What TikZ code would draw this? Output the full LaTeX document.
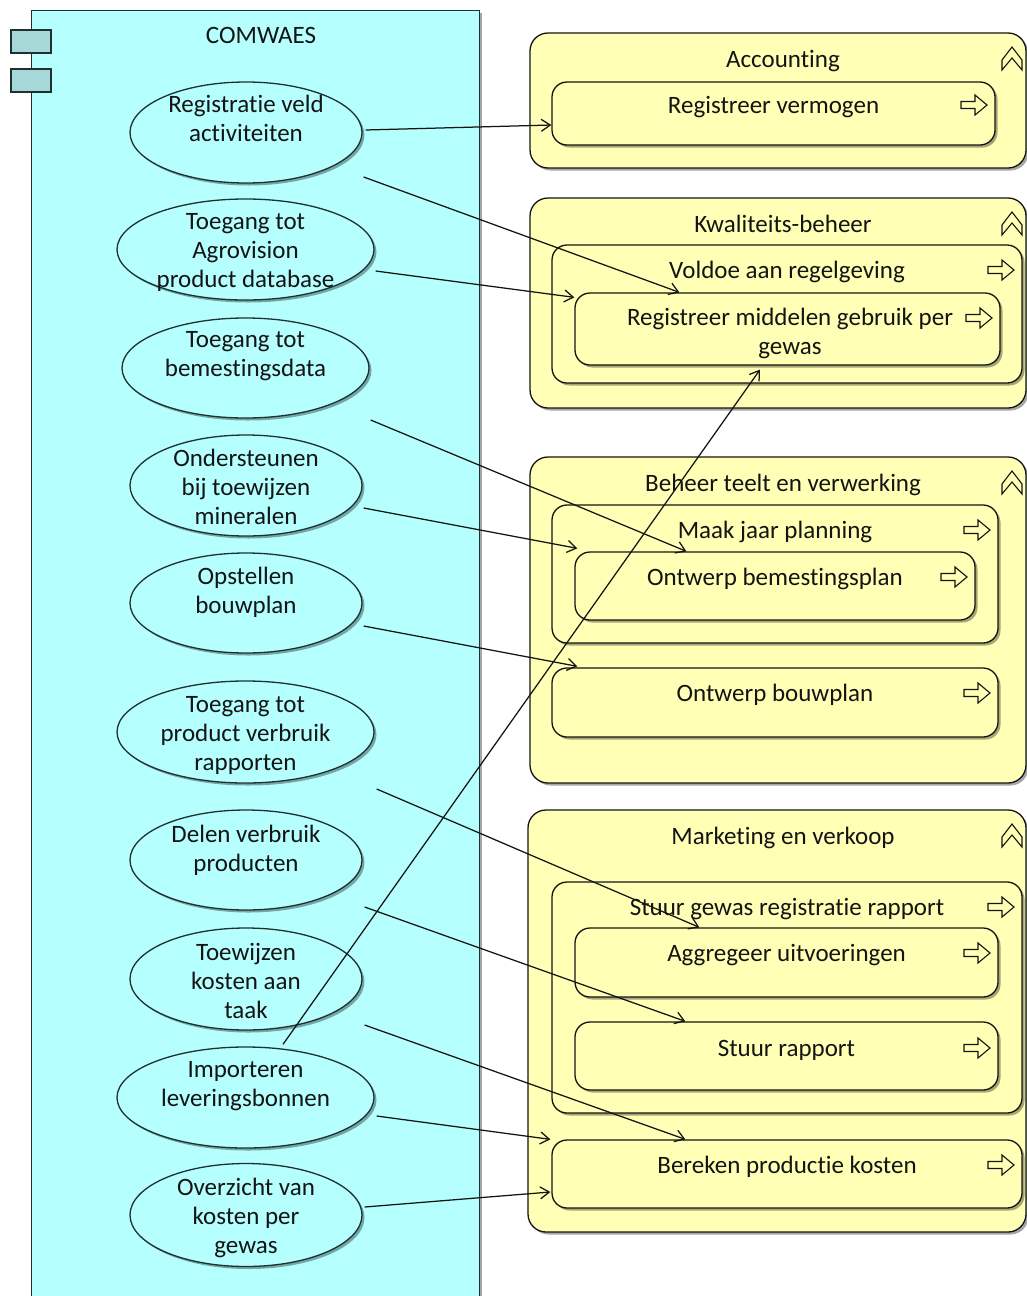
\documentclass[tikz,border=0pt]{standalone}
\usepackage{fontspec}
\setmainfont{Carlito}[Ligatures=NoCommon]
\usetikzlibrary{arrows.meta,shapes.geometric,shadows}
\definecolor{appfill}{HTML}{B5FFFF}
\definecolor{appicon}{HTML}{A6D8D8}
\definecolor{bizfill}{HTML}{FFFFB5}
\definecolor{ink}{HTML}{141414}
\definecolor{edgec}{HTML}{1E3030}
\newcommand\fsz{\fontsize{25}{29}\selectfont}
\newcommand\grp[6]{% name x1 y1 x2 y2 title
  \node[groupbox,minimum width={#4-#2},minimum height={#5-#3},inner sep=0pt] (#1) at ({(#2+#4)/2},{(#3+#5)/2}) {};
  \node[txt] (#1-t) at (783,{#3+25.5}) {#6};
  \pic at (1012,{#3+27}) {collapseicon};
}
\newcommand\prc[7]{% name x1 y1 x2 y2 texty text
  \node[procbox,minimum width={#4-#2},minimum height={#5-#3},inner sep=0pt] (#1) at ({(#2+#4)/2},{(#3+#5)/2}) {};
  \node[txt] (#1-t) at ({(#2+#4)/2},#6) {#7};
  \pic at ({#4-21},#6) {procicon};
}
\begin{document}
\begin{tikzpicture}[x=1pt,y=-1pt,
  shad/.style={drop shadow={shadow xshift=2.5pt,shadow yshift=-2.5pt,opacity=.35,fill=black}},
  compbox/.style={draw=edgec,line width=1.4pt,fill=appfill},
  compicon/.style={draw=edgec,line width=1.4pt,fill=appicon},
  usecase/.style={ellipse,draw=edgec,line width=1.3pt,fill=appfill,inner sep=0pt,shad},
  groupbox/.style={rectangle,rounded corners=18pt,draw=ink,line width=1.3pt,fill=bizfill,shad},
  procbox/.style={rectangle,rounded corners=15pt,draw=ink,line width=1.3pt,fill=bizfill,shad},
  txt/.style={font=\fsz,text=ink,align=center,inner sep=0pt,yshift=-3pt,
    execute at begin node={\strut},execute at end node={\strut}},
  conn/.style={draw=ink,line width=1.25pt,-{Straight Barb[length=9pt,width=12pt]}},
  procicon/.pic={\draw[ink,line width=1.1pt,fill=bizfill]
     (-13,-3.5) -- (1,-3.5) -- (1,-10) -- (13,0) -- (1,10) -- (1,3.5) -- (-13,3.5) -- cycle;},
  collapseicon/.pic={\draw[ink,line width=1.1pt,line join=miter]
     (0,-13) -- (-10,0) -- (-10,10) -- (0,-2) -- (10,10) -- (10,0) -- cycle;}
]
\useasboundingbox (0,0) rectangle (1027,1296);
\clip (0,0) rectangle (1027,1296);
\fill[white] (0,0) rectangle (1027,1296);

% ---------- application component ----------
\node[compbox,shad,rectangle,minimum width=448pt,minimum height=1300pt,anchor=north west,inner sep=0pt] (comp) at (31,10) {};
\node[compicon,rectangle,minimum width=40pt,minimum height=23pt,inner sep=0pt] (ci1) at (31,41.5) {};
\node[compicon,rectangle,minimum width=40pt,minimum height=23pt,inner sep=0pt] (ci2) at (31,80.5) {};
\node[txt] (comp-t) at (261,35) {COMWAES};

% ---------- use cases ----------
\node[usecase,minimum width=232pt,minimum height=101pt] (e1) at (246,132.5) {};
\node[txt] (e1-t) at (246,119.5) {Registratie veld\\activiteiten};
\node[usecase,minimum width=257pt,minimum height=101pt] (e2) at (245.5,249.5) {};
\node[txt] (e2-t) at (245.5,252) {Toegang tot\\Agrovision\\product database};
\node[usecase,minimum width=247pt,minimum height=100pt] (e3) at (245.5,368) {};
\node[txt] (e3-t) at (245.5,355.5) {Toegang tot\\bemestingsdata};
\node[usecase,minimum width=232pt,minimum height=101pt] (e4) at (246,485.5) {};
\node[txt] (e4-t) at (246,488) {Ondersteunen\\bij toewijzen\\mineralen};
\node[usecase,minimum width=232pt,minimum height=100pt] (e5) at (246,603) {};
\node[txt] (e5-t) at (246,591.5) {Opstellen\\bouwplan};
\node[usecase,minimum width=257pt,minimum height=102pt] (e6) at (245.5,732) {};
\node[txt] (e6-t) at (245.5,735) {Toegang tot\\product verbruik\\rapporten};
\node[usecase,minimum width=232pt,minimum height=100pt] (e7) at (246,860) {};
\node[txt] (e7-t) at (246,849.5) {Delen verbruik\\producten};
\node[usecase,minimum width=232pt,minimum height=102pt] (e8) at (246,979) {};
\node[txt] (e8-t) at (246,982) {Toewijzen\\kosten aan\\taak};
\node[usecase,minimum width=257pt,minimum height=101pt] (e9) at (245.5,1097.5) {};
\node[txt] (e9-t) at (245.5,1085.5) {Importeren\\leveringsbonnen};
\node[usecase,minimum width=232pt,minimum height=103pt] (e10) at (246,1215) {};
\node[txt] (e10-t) at (246,1217) {Overzicht van\\kosten per\\gewas};

% ---------- business groups ----------
\grp{gA}{530}{33}{1026}{168}{Accounting}
\prc{rv}{552}{82}{995}{145}{105}{Registreer vermogen}

\grp{gK}{530}{198}{1026}{408}{Kwaliteits-beheer}
\prc{vr}{552}{245}{1022}{383}{270}{Voldoe aan regelgeving}
\node[procbox,minimum width=425pt,minimum height=72pt,inner sep=0pt] (rm) at (787.5,329) {};
\node[txt] (rm-t) at (790,332.5) {Registreer middelen gebruik per\\gewas};
\pic at (979,318) {procicon};

\grp{gB}{530}{457}{1026}{783}{Beheer teelt en verwerking}
\prc{mj}{552}{505}{998}{643}{530}{Maak jaar planning}
\prc{ob}{575}{552}{975}{620}{577}{Ontwerp bemestingsplan}
\prc{obp}{552}{668}{998}{737}{693}{Ontwerp bouwplan}

\grp{gM}{528}{810}{1026}{1232}{Marketing en verkoop}
\prc{sg}{552}{882}{1022}{1113}{907}{Stuur gewas registratie rapport}
\prc{ag}{575}{928}{998}{997}{953}{Aggregeer uitvoeringen}
\prc{sr}{575}{1022}{998}{1090}{1048}{Stuur rapport}
\prc{pk}{552}{1140}{1022}{1208}{1165}{Bereken productie kosten}

% ---------- connectors ----------
\draw[conn] ([shift={(3,-2.5)}]e1.east) -- ([shift={(0,11.5)}]rv.west);
\draw[conn] ([shift={(1,44.5)}]e1.east) -- ([shift={(105,0)}]rm.north west);
\draw[conn] ([shift={(1,21.5)}]e2.east) -- ([shift={(0,5)}]rm.north west);
\draw[conn] ([shift={(1,52)}]e3.east) -- ([shift={(112,0)}]ob.north west);
\draw[conn] ([shift={(1,22.5)}]e4.east) -- ([shift={(3,-3)}]ob.north west);
\draw[conn] ([shift={(1,23)}]e5.east) -- ([shift={(26,-1)}]obp.north west);
\draw[conn] ([shift={(2,57)}]e6.east) -- ([shift={(125,0)}]ag.north west);
\draw[conn] ([shift={(2,47)}]e7.east) -- ([shift={(111,0)}]sr.north west);
\draw[conn] ([shift={(2,46)}]e8.east) -- ([shift={(134,0)}]pk.north west);
\draw[conn] ([shift={(2,18.5)}]e9.east) -- ([shift={(-1,0)}]pk.north west);
\draw[conn] ([shift={(2,-8)}]e10.east) -- ([shift={(-1,18)}]pk.west);
\draw[conn] ([shift={(37.5,-2)}]e9.north) -- ([shift={(-27.5,4)}]rm.south);
\end{tikzpicture}
\end{document}
